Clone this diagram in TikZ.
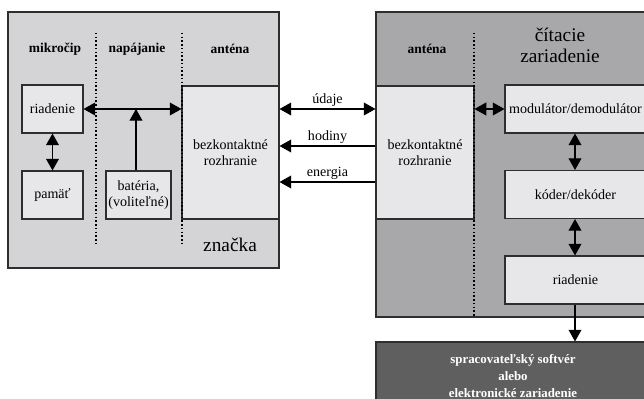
\documentclass[tikz,border=0pt]{standalone}
\usepackage{fontspec}
\setmainfont{Liberation Serif}
\usepackage{tikz}
\usepackage{xcolor}
\usetikzlibrary{positioning, arrows.meta, calc}
\definecolor{tagGray}{HTML}{D4D4D6}
\definecolor{readerGray}{HTML}{A8A8AA}
\definecolor{boxGray}{HTML}{E7E7E9}
\definecolor{appGray}{HTML}{5F5F5F}
\definecolor{edgeGray}{HTML}{2E2E2E}

\begin{document}
\begin{tikzpicture}[x=0.03cm, y=-0.03cm,
  panel/.style={draw=edgeGray, line width=0.9pt, inner sep=0pt},
  blk/.style={draw=edgeGray, line width=0.9pt, fill=boxGray, align=center,
              font=\fontsize{12}{14}\selectfont, inner sep=0pt,
              minimum height=1.44cm},
  head/.style={font=\fontsize{11.5}{13}\selectfont\bfseries},
  big/.style={font=\fontsize{16.5}{20}\selectfont, align=center},
  lbl/.style={font=\fontsize{12}{14}\selectfont, above, inner sep=2pt},
  sep/.style={line width=1.2pt, dotted},
  tip/.style={line width=0.9pt, -{Triangle[length=10pt, width=11pt]}},
  biarrow/.style={line width=0.9pt, {Triangle[length=10pt, width=11pt]}-{Triangle[length=10pt, width=11pt]}},
]
  \useasboundingbox (0,0) rectangle (644,399);
  \clip (0,0) rectangle (644,399);

  % panels
  \node[panel, fill=tagGray, minimum width=8.13cm, minimum height=7.68cm]
    (tag) at (143.5,140) {};
  \node[panel, fill=readerGray, minimum width=8.52cm, minimum height=9.15cm]
    (reader) at (518,164.5) {};

  \node[head] (hchip) at (55,49) {mikročip};
  \node[head] (hpow) at (137,49) {napájanie};
  \node[head] (hant) at (230,49) {anténa};
  \node[head] (hrant) at (427,49) {anténa};
  \node[big] (rdname) at (560,45) {čítacie\\[-2pt]zariadenie};
  \node[big] (tagname) at (230,245) {značka};

  \node[blk, minimum width=2.91cm, minimum height=3.99cm] (tagif) at (230.5,152.5)
    {bezkontaktné\\rozhranie};
  \node[blk, minimum width=2.94cm, minimum height=3.99cm] (rdif) at (425,152.5)
    {bezkontaktné\\rozhranie};

  \draw[sep] (96,33) -- (96,243);
  \draw[sep] (182,33) -- (182,243);
  \draw[sep] (474,33) -- (474,317);

  \node[blk, minimum width=1.83cm] (ctrl) at (52.5,109) {riadenie};
  \node[blk, minimum width=1.83cm] (mem) at (52.5,195) {pamäť};
  \node[blk, minimum width=1.95cm] (batt) at (138.5,195) {batéria,\\(voliteľné)};

  \node[blk, minimum width=4.23cm] (moddem) at (575.5,109) {modulátor/demodulátor};
  \node[blk, minimum width=4.23cm] (coder) at (575.5,194.5) {kóder/dekóder};
  \node[blk, minimum width=4.23cm] (rdctrl) at (575.5,280) {riadenie};

  \node[draw=edgeGray, line width=0.9pt, fill=appGray, text=white, align=center,
        font=\fontsize{11}{14.5}\selectfont\bfseries,
        minimum width=8.22cm, minimum height=2.04cm] (app) at (513,376)
    {spracovateľský softvér\\alebo\\elektronické zariadenie};

  % tag inside
  \draw[biarrow] (ctrl.east) -- (ctrl.east -| tagif.west);
  \draw[tip] (batt.north -| 136,0) -- (136,109);
  \draw[biarrow] (ctrl) -- (mem);

  % air interface
  \draw[biarrow] (tagif.east |- ctrl.east) -- node[lbl] {údaje} (rdif.west |- ctrl.east);
  \draw[tip] ([yshift=0.195cm]rdif.west) -- node[lbl] {hodiny} ([yshift=0.195cm]tagif.east);
  \draw[tip] ([yshift=-0.885cm]rdif.west) -- node[lbl] {energia} ([yshift=-0.885cm]tagif.east);

  % reader inside
  \draw[biarrow] (rdif.east |- moddem.west) -- (moddem.west);
  \draw[biarrow] (moddem.south -| 575,0) -- (coder.north -| 575,0);
  \draw[biarrow] (coder.south -| 575,0) -- (rdctrl.north -| 575,0);
  \draw[tip] (rdctrl.south -| 575,0) -- (app.north -| 575,0);
\end{tikzpicture}
\end{document}
